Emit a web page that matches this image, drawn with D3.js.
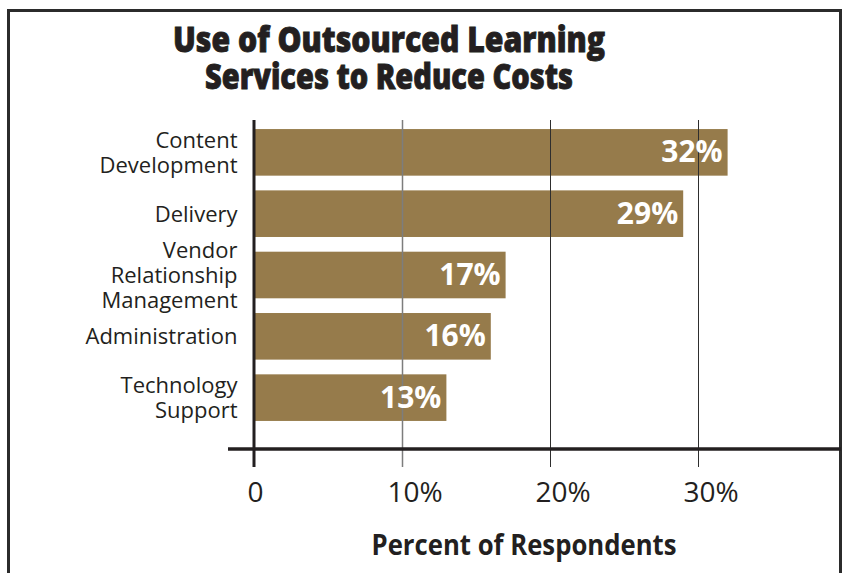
<!DOCTYPE html>
<html>
<head>
<meta charset="utf-8">
<script src="https://cdn.jsdelivr.net/npm/d3@7"></script>
<style>
  body { margin: 0; background: #fff; }
  svg { display: block; }
  text { font-family: "Open Sans", "Noto Sans", sans-serif; fill: #231f20; }
</style>
</head>
<body>
<div id="chart"></div>
<script>
// data
var title = ["Use of Outsourced Learning", "Services to Reduce Costs"];
var categories = ["Content\nDevelopment", "Delivery", "Vendor\nRelationship\nManagement", "Administration", "Technology\nSupport"];
var values = [32, 29, 17, 16, 13];
var xTicks = [0, 10, 20, 30];
var xTickLabels = ["0", "10%", "20%", "30%"];
var xTitle = "Percent of Respondents";

var width = 844, height = 573;
var barColor = "#967b4b";
var ink = "#231f20";

var svg = d3.select("#chart").append("svg")
  .attr("width", width)
  .attr("height", height);

// frame
svg.append("rect")
  .attr("x", 8.5).attr("y", 10.5)
  .attr("width", 832).attr("height", 600)
  .attr("fill", "none")
  .attr("stroke", "#2b2b2b")
  .attr("stroke-width", 3);

// scales
var x = d3.scaleLinear().domain([0, 40]).range([254, 254 + 14.8 * 40]);
var y = d3.scaleBand()
  .domain(categories)
  .range([121.7, 428.3])
  .paddingInner(0.24)
  .paddingOuter(0.12);

var plotTop = 120, plotBottom = 467, axisY = 449;

// title
svg.selectAll("text.title")
  .data(title)
  .enter().append("text")
  .attr("class", "title")
  .attr("x", 389)
  .attr("y", function (d, i) { return 51.7 + i * 37.3; })
  .attr("text-anchor", "middle")
  .attr("font-size", 35)
  .attr("font-weight", 800)
  .attr("textLength", function (d, i) { return i === 0 ? 432 : 368; })
  .attr("lengthAdjust", "spacingAndGlyphs")
  .style("stroke", ink)
  .style("stroke-width", 0.9)
  .text(function (d) { return d; });

// bars
svg.selectAll("rect.bar")
  .data(values)
  .enter().append("rect")
  .attr("class", "bar")
  .attr("x", x(0))
  .attr("y", function (d, i) { return y(categories[i]); })
  .attr("width", function (d) { return x(d) - x(0); })
  .attr("height", y.bandwidth())
  .attr("fill", barColor);

// gridlines (drawn over bars, running below the axis as ticks)
svg.selectAll("line.grid")
  .data(xTicks.filter(function (d) { return d > 0; }))
  .enter().append("line")
  .attr("class", "grid")
  .attr("x1", function (d) { return Math.round(x(d)) + 0.5; })
  .attr("x2", function (d) { return Math.round(x(d)) + 0.5; })
  .attr("y1", plotTop)
  .attr("y2", plotBottom)
  .attr("stroke", function (d) { return d === 10 ? "#7d7d7d" : "#2e2e2e"; })
  .attr("stroke-width", function (d) { return d === 10 ? 1.5 : 1; });

// x axis line
svg.append("line")
  .attr("x1", 228).attr("x2", 841)
  .attr("y1", axisY).attr("y2", axisY)
  .attr("stroke", ink)
  .attr("stroke-width", 3.5);

// y axis line
svg.append("line")
  .attr("x1", x(0)).attr("x2", x(0))
  .attr("y1", plotTop).attr("y2", plotBottom)
  .attr("stroke", ink)
  .attr("stroke-width", 3);

// x tick labels: number centred on the tick, "%" trailing
xTicks.forEach(function (d, i) {
  var label = xTickLabels[i];
  var num = label.replace("%", "");
  var t = svg.append("text")
    .attr("y", 501.7)
    .attr("font-size", 28);
  var numSpan = t.append("tspan").text(num);
  if (label.indexOf("%") >= 0) t.append("tspan").text("%");
  var w = numSpan.node().getComputedTextLength();
  t.attr("x", x(d) + 1.5 - w / 2);
});

// x axis title
svg.append("text")
  .attr("x", 524)
  .attr("y", 555)
  .attr("text-anchor", "middle")
  .attr("font-size", 28)
  .attr("font-weight", 700)
  .attr("textLength", 305)
  .attr("lengthAdjust", "spacingAndGlyphs")
  .text(xTitle);

// category labels
var lineH = 25;
categories.forEach(function (c) {
  var lines = c.split("\n");
  var cy = y(c) + y.bandwidth() / 2;
  var first = cy - (lines.length - 1) * lineH / 2 + 8;
  var t = svg.append("text")
    .attr("text-anchor", "end")
    .attr("font-size", 22);
  lines.forEach(function (l, j) {
    t.append("tspan")
      .attr("x", 237.5)
      .attr("y", first + j * lineH)
      .text(l);
  });
});

// value labels
svg.selectAll("text.value")
  .data(values)
  .enter().append("text")
  .attr("class", "value")
  .attr("x", function (d) { return x(d) - 5; })
  .attr("y", function (d, i) { return y(categories[i]) + y.bandwidth() / 2 + 10; })
  .attr("text-anchor", "end")
  .attr("font-size", 30)
  .attr("font-weight", 700)
  .style("fill", "#fff")
  .text(function (d) { return d + "%"; });
</script>
</body>
</html>
